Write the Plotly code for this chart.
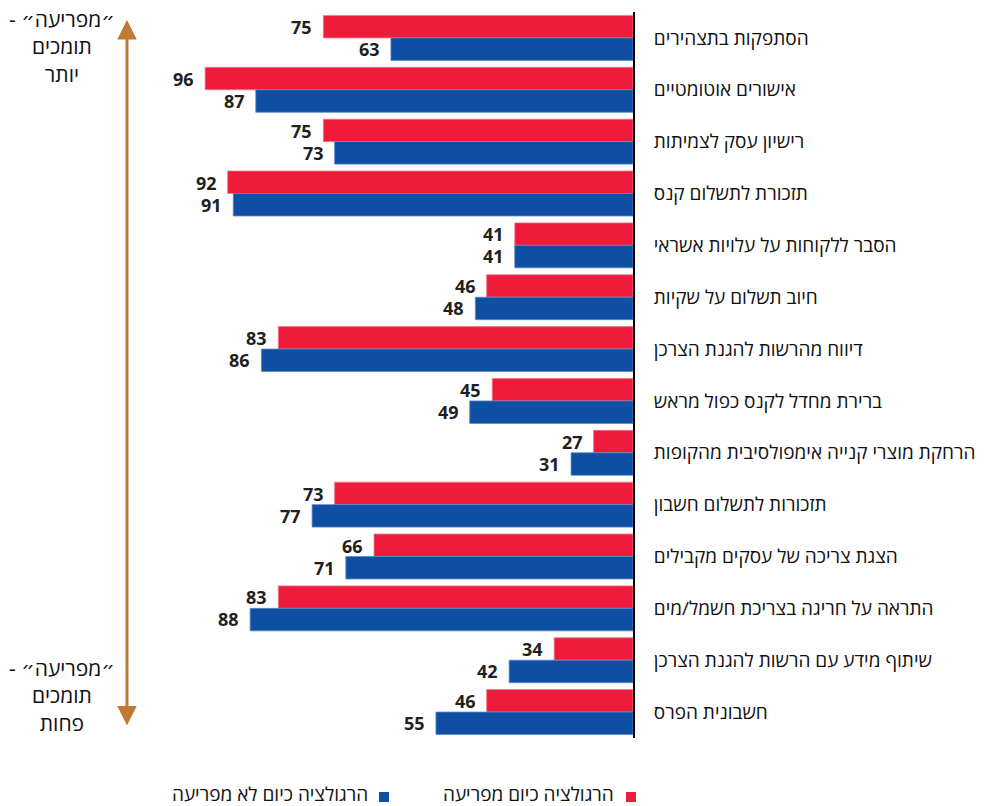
import plotly.graph_objects as go

# Regulation items (top to bottom)
categories = [
    "הסתפקות בתצהירים",
    "אישורים אוטומטיים",
    "רישיון עסק לצמיתות",
    "תזכורת לתשלום קנס",
    "הסבר ללקוחות על עלויות אשראי",
    "חיוב תשלום על שקיות",
    "דיווח מהרשות להגנת הצרכן",
    "ברירת מחדל לקנס כפול מראש",
    "הרחקת מוצרי קנייה אימפולסיבית מהקופות",
    "תזכורות לתשלום חשבון",
    "הצגת צריכה של עסקים מקבילים",
    "התראה על חריגה בצריכת חשמל/מים",
    "שיתוף מידע עם הרשות להגנת הצרכן",
    "חשבונית הפרס",
]
bothered_now = [75, 96, 75, 92, 41, 46, 83, 45, 27, 73, 66, 83, 34, 46]
not_bothered_now = [63, 87, 73, 91, 41, 48, 86, 49, 31, 77, 71, 88, 42, 55]

series_names = ["הרגולציה כיום מפריעה", "הרגולציה כיום לא מפריעה"]
top_note = "- ״מפריעה״<br>תומכים<br>יותר"
bottom_note = "- ״מפריעה״<br>תומכים<br>פחות"

RED = "#EE1C3A"
BLUE = "#0E4FA3"
ARROW = "#C07A33"
FONT = "Open Sans, DejaVu Sans, sans-serif"

W, H = 989, 806
ML, MR, MT, MB = 140, 356, 12, 68
PW, PH = W - ML - MR, H - MT - MB
X_MIN = 20
X_MAX = X_MIN + PW / 5.63


def px(x):
    return (x - ML) / PW


def py(y):
    return (H - MB - y) / PH


fig = go.Figure()
fig.add_trace(go.Bar(
    y=categories, x=[v - X_MIN for v in bothered_now], base=X_MIN,
    orientation="h", name=series_names[0],
    marker=dict(color=RED, line=dict(color="#F4788A", width=0.8)),
    hoverinfo="skip",
))
fig.add_trace(go.Bar(
    y=categories, x=[v - X_MIN for v in not_bothered_now], base=X_MIN,
    orientation="h", name=series_names[1],
    marker=dict(color=BLUE, line=dict(color="#5A86C4", width=0.8)),
    hoverinfo="skip",
))

annotations = []
# value labels at the end of each bar
for cat, a, b in zip(categories, bothered_now, not_bothered_now):
    for v, shift in ((a, 11), (b, -11)):
        annotations.append(dict(
            x=v, y=cat, xref="x", yref="y", text=f"<b>{v}</b>",
            showarrow=False, xanchor="right", yanchor="middle",
            xshift=-9, yshift=shift,
            font=dict(family=FONT, size=18, color="#231F20"),
        ))

# side notes
annotations.append(dict(
    x=px(62), y=py(3), xref="paper", yref="paper", text=top_note,
    showarrow=False, xanchor="center", yanchor="top", align="center",
    font=dict(family=FONT, size=21, color="#111111"),
))
annotations.append(dict(
    x=px(62), y=py(652), xref="paper", yref="paper", text=bottom_note,
    showarrow=False, xanchor="center", yanchor="top", align="center",
    font=dict(family=FONT, size=21, color="#111111"),
))

# double-headed arrow
annotations.append(dict(
    x=px(127), y=py(20), xref="paper", yref="paper",
    ax=0, ay=707, text="", showarrow=True,
    arrowside="end+start", arrowhead=2, arrowsize=1.3,
    arrowwidth=3, arrowcolor=ARROW,
))

# legend (marker to the right of the text)
shapes = []
for name, color, sq_x, txt_right in (
    (series_names[0], RED, 626, 616),
    (series_names[1], BLUE, 379, 370),
):
    shapes.append(dict(
        type="rect", xref="paper", yref="paper",
        x0=px(sq_x), x1=px(sq_x + 10), y0=py(802), y1=py(792),
        fillcolor=color, line=dict(width=0),
    ))
    annotations.append(dict(
        x=px(txt_right), y=py(794), xref="paper", yref="paper", text=name,
        showarrow=False, xanchor="right", yanchor="middle",
        font=dict(family=FONT, size=19, color="#111111"),
    ))

fig.update_layout(
    width=W, height=H,
    margin=dict(l=ML, r=MR, t=MT, b=MB, pad=0),
    paper_bgcolor="white", plot_bgcolor="white",
    barmode="group", bargap=0.133, bargroupgap=0,
    showlegend=False,
    xaxis=dict(range=[X_MAX, X_MIN], visible=False, fixedrange=True),
    yaxis=dict(
        autorange="reversed", side="right", showline=True,
        linecolor="black", linewidth=2, showgrid=False, ticks="",
        ticklabelstandoff=15,
        tickfont=dict(family=FONT, size=19, color="#111111"),
        fixedrange=True,
    ),
    annotations=annotations, shapes=shapes,
)

fig.write_html("out.html", config={"displayModeBar": False})
